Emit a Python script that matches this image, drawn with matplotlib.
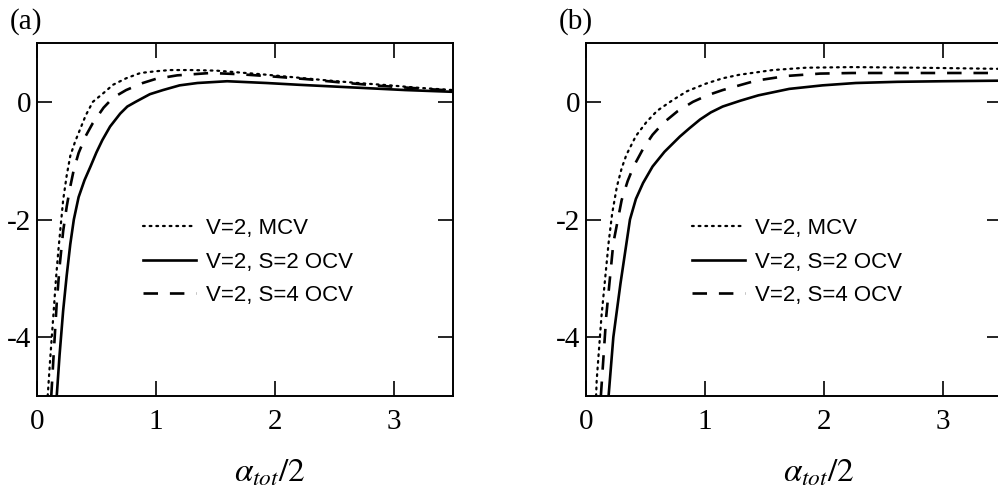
import matplotlib
matplotlib.use("Agg")
import matplotlib.pyplot as plt

plt.rcParams['font.family'] = ['Liberation Serif', 'DejaVu Serif']
plt.rcParams['mathtext.fontset'] = 'stix'
plt.rcParams['axes.unicode_minus'] = False

# panel (a)
a_mcv_x = [0.09, 0.11, 0.137, 0.16, 0.18, 0.22, 0.25, 0.28, 0.32, 0.36, 0.41, 0.47, 0.56, 0.64, 0.75,
           0.87, 1.0, 1.12, 1.3, 1.51, 1.88, 2.2, 2.41, 2.7, 2.97, 3.2, 3.5]
a_mcv_y = [-5.0, -4.4, -3.65, -3.0, -2.52, -1.67, -1.25, -0.92, -0.68, -0.48, -0.23, 0.0, 0.15, 0.29, 0.4,
           0.49, 0.52, 0.54, 0.54, 0.53, 0.47, 0.41, 0.37, 0.32, 0.28, 0.24, 0.2]

a_s2_x = [0.166, 0.19, 0.22, 0.25, 0.28, 0.31, 0.35, 0.4, 0.45, 0.5, 0.55, 0.615, 0.7, 0.76, 0.83,
          0.95, 1.06, 1.2, 1.35, 1.6, 1.93, 2.2, 2.5, 2.8, 3.1, 3.5]
a_s2_y = [-5.0, -4.3, -3.55, -2.95, -2.42, -2.0, -1.62, -1.33, -1.1, -0.86, -0.65, -0.42, -0.2, -0.08, 0.0,
          0.13, 0.2, 0.28, 0.32, 0.35, 0.32, 0.29, 0.26, 0.23, 0.2, 0.17]

a_s4_x = [0.12, 0.14, 0.166, 0.19, 0.22, 0.25, 0.28, 0.31, 0.35, 0.41, 0.47, 0.56, 0.64, 0.75, 0.89,
          1.0, 1.18, 1.46, 1.7, 1.99, 2.3, 2.55, 2.9, 3.34, 3.5]
a_s4_y = [-5.0, -4.3, -3.42, -2.8, -2.2, -1.78, -1.44, -1.15, -0.87, -0.58, -0.36, -0.1, 0.07, 0.2, 0.32,
          0.39, 0.45, 0.49, 0.47, 0.43, 0.38, 0.33, 0.27, 0.21, 0.19]

# panel (b)
b_mcv_x = [0.085, 0.09, 0.13, 0.19, 0.22, 0.26, 0.3, 0.34, 0.42, 0.51, 0.6, 0.73, 0.85, 1.01, 1.15,
           1.29, 1.57, 1.85, 2.24, 2.8, 3.5]
b_mcv_y = [-5.0, -4.73, -3.65, -2.4, -1.9, -1.44, -1.13, -0.9, -0.58, -0.34, -0.15, 0.03, 0.18, 0.31, 0.4,
           0.46, 0.54, 0.58, 0.59, 0.58, 0.56]

b_s2_x = [0.19, 0.23, 0.29, 0.37, 0.42, 0.48, 0.56, 0.66, 0.79, 0.87, 0.96, 1.05, 1.15, 1.3, 1.45,
          1.71, 1.99, 2.27, 2.62, 3.0, 3.5]
b_s2_y = [-5.0, -4.0, -3.09, -2.0, -1.65, -1.38, -1.1, -0.85, -0.59, -0.45, -0.3, -0.18, -0.08, 0.02, 0.11,
          0.22, 0.28, 0.32, 0.34, 0.35, 0.36]

b_s4_x = [0.125, 0.17, 0.23, 0.3, 0.35, 0.4, 0.48, 0.56, 0.65, 0.77, 0.9, 1.02, 1.15, 1.43, 1.69,
          1.97, 2.24, 2.8, 3.5]
b_s4_y = [-5.0, -3.65, -2.4, -1.67, -1.35, -1.1, -0.8, -0.56, -0.36, -0.16, 0.0, 0.11, 0.2, 0.36, 0.44,
          0.48, 0.49, 0.49, 0.49]

labels = ['V=2, MCV', 'V=2, S=2 OCV', 'V=2, S=4 OCV']
panels = [
    ('(a)', (a_mcv_x, a_mcv_y), (a_s2_x, a_s2_y), (a_s4_x, a_s4_y)),
    ('(b)', (b_mcv_x, b_mcv_y), (b_s2_x, b_s2_y), (b_s4_x, b_s4_y)),
]

fig = plt.figure(figsize=(9.98, 4.88), dpi=100)
lefts = [37 / 998, 586 / 998]

for left, (tag, mcv, s2, s4) in zip(lefts, panels):
    ax = fig.add_axes([left, 0.1885, 0.4168, 0.7234])
    ax.plot(*mcv, color='black', lw=1.6, linestyle=(0, (0.8, 2.2)),
            dash_capstyle='round', label=labels[0])
    ax.plot(*s2, color='black', lw=1.9, label=labels[1])
    ax.plot(*s4, color='black', lw=1.9, linestyle=(0, (5.5, 4.5)), label=labels[2])

    ax.set_xlim(0, 3.5)
    ax.set_ylim(-5, 1)
    ax.set_xticks([0, 1, 2, 3])
    ax.set_yticks([-4, -2, 0])
    ax.tick_params(direction='in', length=11, width=1.2, top=True, right=True,
                   labelsize=21)
    ax.tick_params(axis='x', pad=9)
    ax.tick_params(axis='y', pad=4)
    for sp in ax.spines.values():
        sp.set_linewidth(1.4)

    ax.set_xlabel(r'$\alpha_{tot}/2$', fontsize=24)
    ax.xaxis.set_label_coords(0.56, -0.218)
    ax.xaxis.label.set_va('center')

    ax.text(left - 27 / 998, 0.955, tag, transform=fig.transFigure,
            fontsize=21, ha='left', va='center')

    leg = ax.legend(loc='upper left', bbox_to_anchor=(0.255, 0.504), frameon=False,
                    borderpad=0, borderaxespad=0, handlelength=2.36, handletextpad=0.45,
                    labelspacing=0.56, prop={'family': 'Liberation Sans', 'size': 16})

fig.savefig('out.png', dpi=100)
